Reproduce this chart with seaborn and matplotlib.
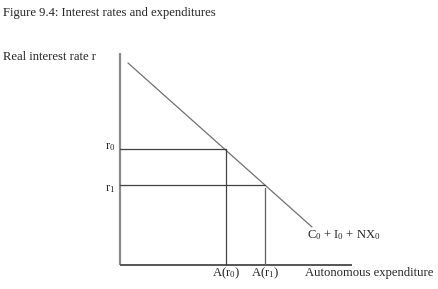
import matplotlib
matplotlib.use("Agg")
import matplotlib.pyplot as plt
import seaborn as sns
import pandas as pd

# Data (in chart units; origin at axes intersection)
curve_x = [8, 192]
curve_y = [202, 38]
r_levels = [116, 80]          # r0, r1
a_levels = [106, 145]         # A(r0), A(r1)
r_labels = ["r$_0$", "r$_1$"]
a_labels = ["A(r$_0$)", "A(r$_1$)"]
axis_len_x = 232
axis_len_y = 212
title = "Figure 9.4: Interest rates and expenditures"
ylabel = "Real interest rate r"
xlabel = "Autonomous expenditure"
curve_label = "C$_0$ + I$_0$ + NX$_0$"

sns.set_style("white")
plt.rcParams['font.family'] = ['Liberation Serif', 'DejaVu Serif']
plt.rcParams['mathtext.fontset'] = 'custom'
plt.rcParams['mathtext.rm'] = 'Liberation Serif'
plt.rcParams['mathtext.it'] = 'Liberation Serif'

fig = plt.figure(figsize=(4.38, 2.89), dpi=100)
ax = fig.add_axes([0, 0, 1, 1])
ax.set_xlim(-120, 318)
ax.set_ylim(-24, 265)
ax.axis('off')

# Axes of the diagram
ax.plot([0, 0], [0, axis_len_y], color='#8a8a8a', lw=1.6, solid_capstyle='butt')
ax.plot([0, axis_len_x], [0, 0], color='#555555', lw=1.4, solid_capstyle='butt')

# Demand line
df = pd.DataFrame({"x": curve_x, "y": curve_y})
sns.lineplot(data=df, x="x", y="y", ax=ax, color='#707070', lw=0.9)

# Reference lines
ax.plot([0, a_levels[0]], [r_levels[0], r_levels[0]], color='#404040', lw=0.9)
ax.plot([a_levels[0], a_levels[0]], [0, r_levels[0]], color='#404040', lw=0.9)
ax.plot([0, a_levels[1]], [r_levels[1], r_levels[1]], color='#404040', lw=0.9)
ax.plot([a_levels[1], a_levels[1]], [0, r_levels[1] - 3], color='#606060', lw=0.9)

fs = 9.1
ax.text(-117, 252, title, fontsize=fs, va='center', ha='left')
ax.text(-117, 208, ylabel, fontsize=fs, va='center', ha='left')
r_offsets = [2, -4]
for r, lab, off in zip(r_levels, r_labels, r_offsets):
    ax.text(-5, r + off, lab, fontsize=fs, va='center', ha='right')
for a, lab in zip(a_levels, a_labels):
    ax.text(a, -8, lab, fontsize=fs, va='center', ha='center')
ax.text(185, -8, xlabel, fontsize=fs, va='center', ha='left')
ax.text(187, 30, curve_label, fontsize=fs, va='center', ha='left')

ax.set_xlabel("")
ax.set_ylabel("")
fig.savefig("out.png", dpi=100)
